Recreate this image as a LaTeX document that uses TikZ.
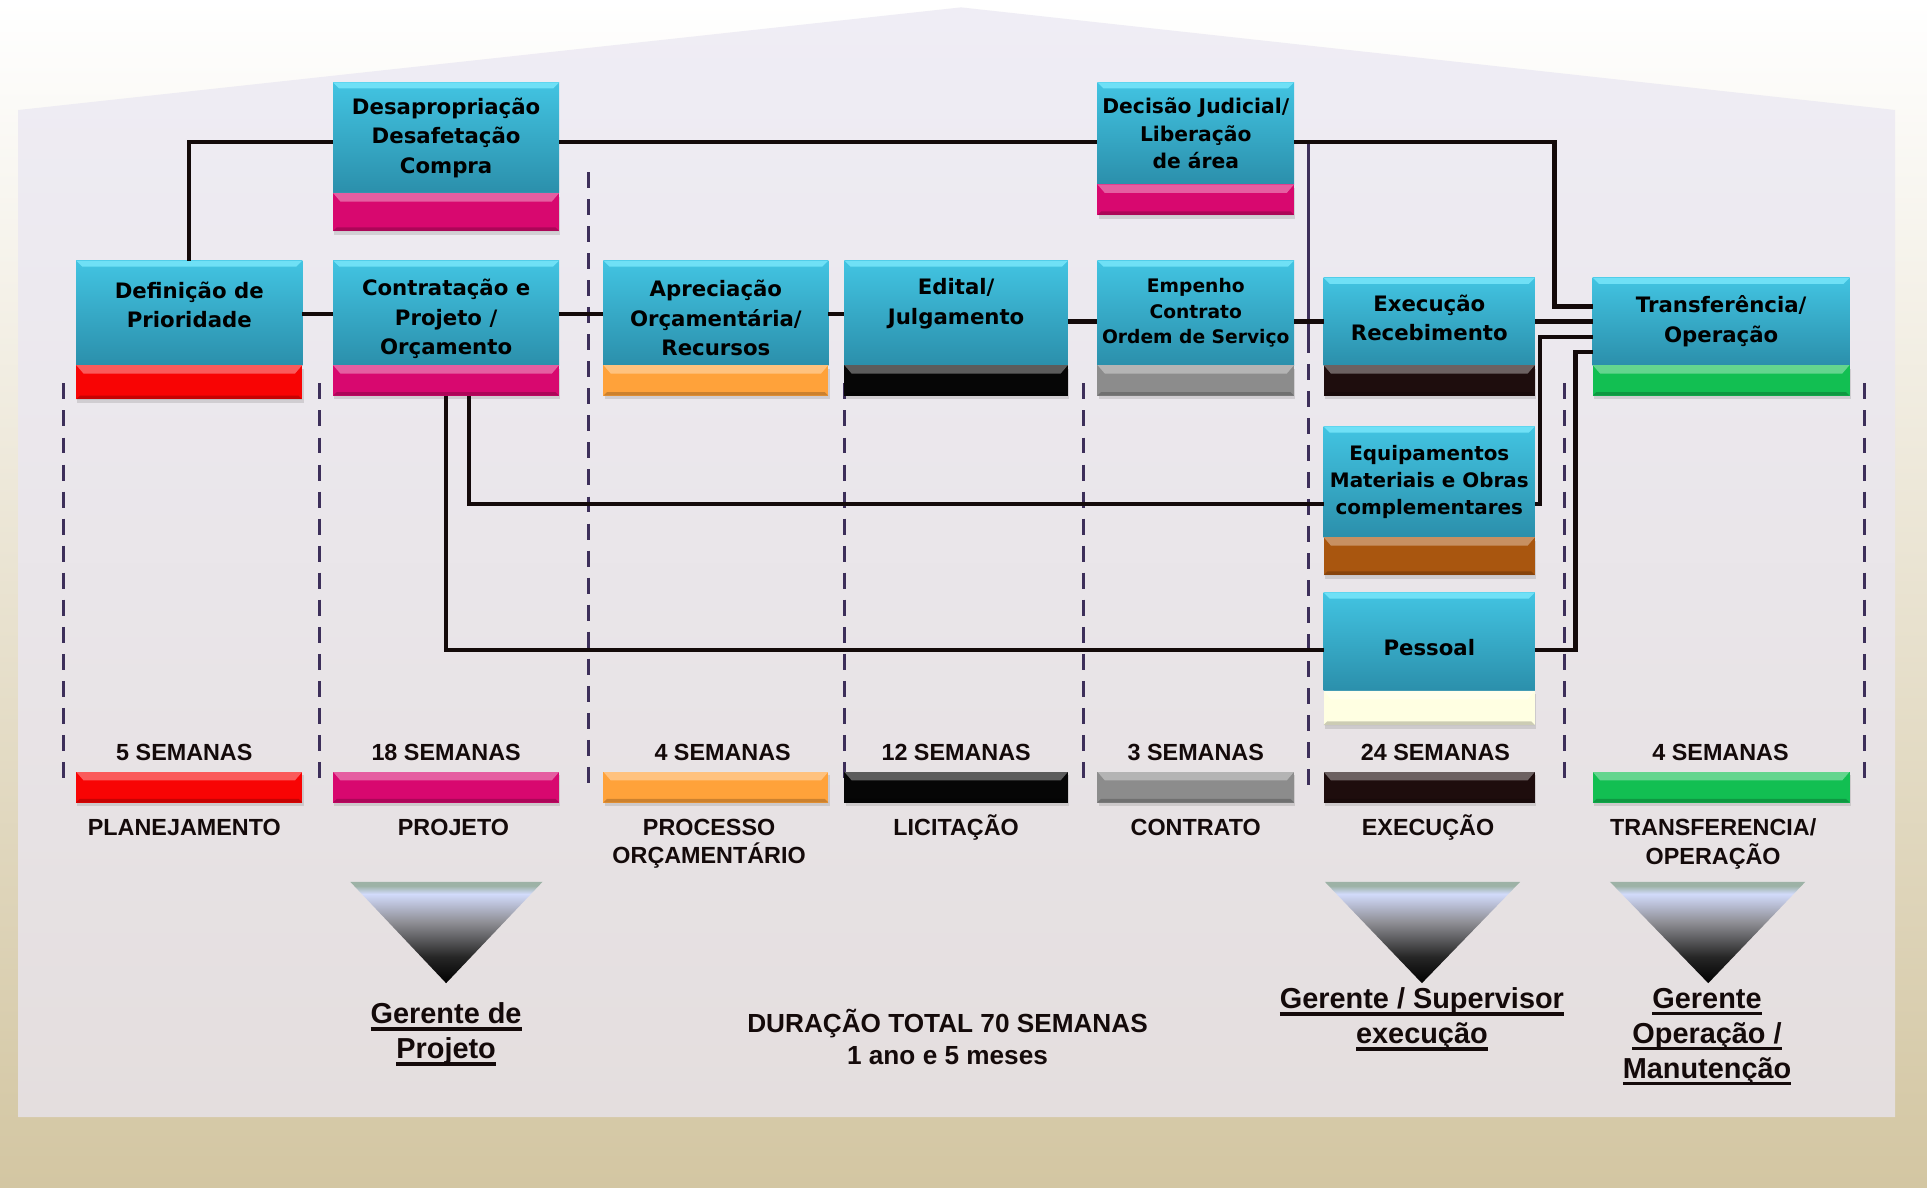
\documentclass[tikz,border=0pt]{standalone}
\usepackage{fontspec}
\setmainfont{Liberation Sans}
\newfontfamily\caixafont{DejaVu Sans}
\usetikzlibrary{positioning,shadows}

\definecolor{ciano0}{HTML}{6FE0F6}
\definecolor{ciano1}{HTML}{42C4E2}
\definecolor{ciano2}{HTML}{2B8FAB}
\definecolor{linha}{HTML}{140A0A}
\definecolor{divis}{HTML}{3D2F5A}
\definecolor{vermelho}{HTML}{F80404}
\definecolor{rosa}{HTML}{D8086F}
\definecolor{laranja}{HTML}{FFA23A}
\definecolor{preto}{HTML}{060606}
\definecolor{cinza}{HTML}{8C8C8C}
\definecolor{marrom}{HTML}{1E0D0D}
\definecolor{verde}{HTML}{12BF52}
\definecolor{cobre}{HTML}{A9560F}
\definecolor{creme}{HTML}{FFFFE2}
\definecolor{lavA}{HTML}{EFEDF5}
\definecolor{lavB}{HTML}{E4DEDE}
\definecolor{areia}{HTML}{D3C6A2}
\definecolor{triA}{HTML}{9DB2A6}
\definecolor{triB}{HTML}{D2DBFB}
\definecolor{triC}{HTML}{8E8E94}

\pgfdeclareverticalshading{funil}{100bp}{color(0bp)=(black); color(25bp)=(black); color(38bp)=(black!85); color(55bp)=(triC); color(69bp)=(triB); color(73bp)=(triA); color(75bp)=(triA); color(100bp)=(triA)}

\newcommand{\sublinha}[1]{\setbox0=\hbox{#1}\rlap{\rule[-6pt]{\wd0}{3pt}}\box0}
\newcommand{\alto}[1]{\rule{0pt}{#1}}

\begin{document}
\begin{tikzpicture}[x=1pt,y=-1pt,
		etapa/.style={rectangle,inner sep=0pt,outer sep=0pt,top color=ciano1,bottom color=ciano2,align=center,text=black,font=\caixafont\bfseries\fontsize{17.3}{24}\selectfont,path picture={\fill[ciano0] (path picture bounding box.north west) -- (path picture bounding box.north east) -- ([xshift=-5pt,yshift=-5pt]path picture bounding box.north east) -- ([xshift=5pt,yshift=-5pt]path picture bounding box.north west) -- cycle;}},
		sobe/.style={execute at end node={\rule[-#1]{0pt}{#1}}},
		faixa/.style={rectangle,inner sep=0pt,outer sep=0pt,fill=#1,minimum height=25pt,drop shadow={shadow xshift=1pt,shadow yshift=-3pt,opacity=.25},path picture={\fill[white,opacity=.35] (path picture bounding box.north west) -- (path picture bounding box.north east) -- ([xshift=-6pt,yshift=-7pt]path picture bounding box.north east) -- ([xshift=6pt,yshift=-7pt]path picture bounding box.north west) -- cycle; \fill[black,opacity=.2] (path picture bounding box.south west) -- (path picture bounding box.south east) -- ([xshift=-3pt,yshift=3pt]path picture bounding box.south east) -- ([xshift=3pt,yshift=3pt]path picture bounding box.south west) -- cycle;}},
		liga/.style={draw=linha,line width=3.5pt},
		divisa/.style={draw=divis,line width=2.5pt,dash pattern=on 13pt off 9pt},
		rotulo/.style={inner sep=0pt,align=center,text=linha,font=\bfseries\fontsize{19}{23}\selectfont},
		gerente/.style={inner sep=0pt,align=center,text=linha,font=\bfseries\fontsize{23.5}{28.5}\selectfont}]

		\shade[top color=white,bottom color=areia] (0,0) rectangle (1568,966);
		\shade[top color=lavA,bottom color=lavB] (15,909) -- (15,89.5) -- (782,6) -- (1542,89.5) -- (1542,909) -- cycle;

		\foreach \x in {52,260,687,882,1273,1517}
			\draw[divisa] (\x,312) -- (\x,640);
		\draw[divisa] (479,140) -- (479,640);
		\draw[divisa] (1065,274) -- (1065,640);
		\draw[draw=divis,line width=2.5pt] (1065,115.5) -- (1065,274);

		\node[etapa,minimum width=184pt,minimum height=85pt] (defin) at (154,254.5) {\alto{24pt}Definição de\\Prioridade\\\mbox{}};
		\node[faixa=vermelho,minimum width=184pt,minimum height=28pt,below=0pt of defin] (defin-f) {};
		\node[etapa,minimum width=184pt,minimum height=90pt] (desap) at (363,112) {Desapropriação\\Desafetação\\Compra};
		\node[faixa=rosa,minimum width=184pt,minimum height=31pt,below=0pt of desap] (desap-f) {};
		\node[etapa,minimum width=184pt,minimum height=85pt] (contr) at (363,254.5) {\alto{24pt}Contratação e\\Projeto /\\Orçamento};
		\node[faixa=rosa,minimum width=184pt,below=0pt of contr] (contr-f) {};
		\node[etapa,minimum width=183pt,minimum height=85pt] (aprec) at (582.5,254.5) {\alto{22pt}Apreciação\\Orçamentária/\\Recursos};
		\node[faixa=laranja,minimum width=183pt,below=0pt of aprec] (aprec-f) {};
		\node[etapa,minimum width=182pt,minimum height=85pt] (edital) at (778,254.5) {\alto{19pt}Edital/\\Julgamento\\\mbox{}};
		\node[faixa=preto,minimum width=182pt,below=0pt of edital] (edital-f) {};
		\node[etapa,minimum width=160pt,minimum height=85pt,font=\caixafont\bfseries\fontsize{15.2}{20.5}\selectfont] (empen) at (973,254.5) {Empenho\\Contrato\\Ordem de Serviço};
		\node[faixa=cinza,minimum width=160pt,below=0pt of empen] (empen-f) {};
		\node[etapa,minimum width=160pt,minimum height=83pt,font=\caixafont\bfseries\fontsize{16.5}{22.5}\selectfont] (decis) at (973,108.5) {Decisão Judicial/\\Liberação\\de área};
		\node[faixa=rosa,minimum width=160pt,below=0pt of decis] (decis-f) {};
		\node[etapa,sobe=6pt,minimum width=172pt,minimum height=71pt] (exec) at (1163,261.5) {Execução\\Recebimento};
		\node[faixa=marrom,minimum width=172pt,below=0pt of exec] (exec-f) {};
		\node[etapa,sobe=3pt,minimum width=209pt,minimum height=71pt] (transf) at (1400.5,261.5) {Transferência/\\Operação};
		\node[faixa=verde,minimum width=209pt,below=0pt of transf] (transf-f) {};
		\node[etapa,minimum width=172pt,minimum height=90pt,font=\caixafont\bfseries\fontsize{16.2}{22}\selectfont] (equip) at (1163,392) {Equipamentos\\Materiais e Obras\\complementares};
		\node[faixa=cobre,minimum width=172pt,minimum height=31pt,below=0pt of equip] (equip-f) {};
		\node[etapa,minimum width=172pt,minimum height=80pt] (pess) at (1163,522) {\alto{23pt}Pessoal};
		\node[faixa=creme,minimum width=172pt,minimum height=28pt,below=0pt of pess] (pess-f) {};

		\draw[liga] (defin.north) |- ([yshift=-3.5pt]desap.west);
		\draw[liga] ([yshift=-1pt]defin.east) -- ([yshift=-1pt]contr.west);
		\draw[liga] ([yshift=-1pt]contr.east) -- ([yshift=-1pt]aprec.west);
		\draw[liga] ([yshift=-1pt]aprec.east) -- ([yshift=-1pt]edital.west);
		\draw[liga] (edital.east |- exec.west) -- (empen.west |- exec.west);
		\draw[liga] (empen.east |- exec.west) -- (exec.west);
		\draw[liga] ([yshift=-3.5pt]desap.east) -- ([yshift=-3.5pt]desap.east -| decis.west);
		\draw[liga] ([yshift=-7pt]decis.east) -| ([xshift=-31pt,yshift=12pt]transf.west) -- ([yshift=12pt]transf.west);
		\draw[liga] (exec.east) -- (transf.west);
		\draw[liga] ([yshift=-18pt]equip.east) -| ([xshift=-43pt,yshift=-12.5pt]transf.west) -- ([yshift=-12.5pt]transf.west);
		\draw[liga] ([yshift=-7pt]pess.east) -| ([xshift=-14pt,yshift=-25pt]transf.west) -- ([yshift=-25pt]transf.west);
		\draw[liga] (contr-f.south) |- ([yshift=-7pt]pess.west);
		\draw[liga] ([xshift=18.5pt]contr-f.south) |- ([yshift=-18pt]equip.west);

		\foreach \cx/\w/\cor [count=\i] in {154/184/vermelho,363/184/rosa,582.5/183/laranja,778/182/preto,973/160/cinza,1163/172/marrom,1400.5/209/verde}
			\node[faixa=\cor,minimum width=\w pt] (leg\i) at (\cx,640.5) {};

		\node[rotulo,anchor=base] (sem1) at (150,619) {5 SEMANAS};
		\node[rotulo,anchor=base] (sem2) at (363,619) {18 SEMANAS};
		\node[rotulo,anchor=base] (sem3) at (588,619) {4 SEMANAS};
		\node[rotulo,anchor=base] (sem4) at (778,619) {12 SEMANAS};
		\node[rotulo,anchor=base] (sem5) at (973,619) {3 SEMANAS};
		\node[rotulo,anchor=base] (sem6) at (1168,619) {24 SEMANAS};
		\node[rotulo,anchor=base] (sem7) at (1400,619) {4 SEMANAS};

		\node[rotulo,anchor=base] (fase1) at (150,680) {PLANEJAMENTO};
		\node[rotulo,anchor=base] (fase2) at (369,680) {PROJETO};
		\node[rotulo,anchor=north] (fase3) at (577,666.2) {PROCESSO\\ORÇAMENTÁRIO};
		\node[rotulo,anchor=base] (fase4) at (778,680) {LICITAÇÃO};
		\node[rotulo,anchor=base] (fase5) at (973,680) {CONTRATO};
		\node[rotulo,anchor=base] (fase6) at (1162,680) {EXECUÇÃO};
		\node[rotulo,anchor=north] (fase7) at (1394,666.2) {TRANSFERENCIA/\\OPERAÇÃO};

		\foreach \a/\b/\c in {285/441.5/363,1078/1237/1157,1310/1469/1390}
			\shade[shading=funil] (\a,717.5) -- (\b,717.5) -- (\c,800) -- cycle;

		\node[gerente,anchor=north] (ger1) at (363,815.5) {\sublinha{Gerente de}\\\sublinha{Projeto}};
		\node[gerente,anchor=north] (ger2) at (1157,803.6) {\sublinha{Gerente / Supervisor}\\\sublinha{execução}};
		\node[gerente,anchor=north] (ger3) at (1389,803.6) {\sublinha{Gerente}\\\sublinha{Operação /}\\\sublinha{Manutenção}};
		\node[rotulo,font=\bfseries\fontsize{21.3}{26}\selectfont,anchor=north] (total) at (771,821) {DURAÇÃO TOTAL 70 SEMANAS\\1 ano e 5 meses};
	\end{tikzpicture}
\end{document}
